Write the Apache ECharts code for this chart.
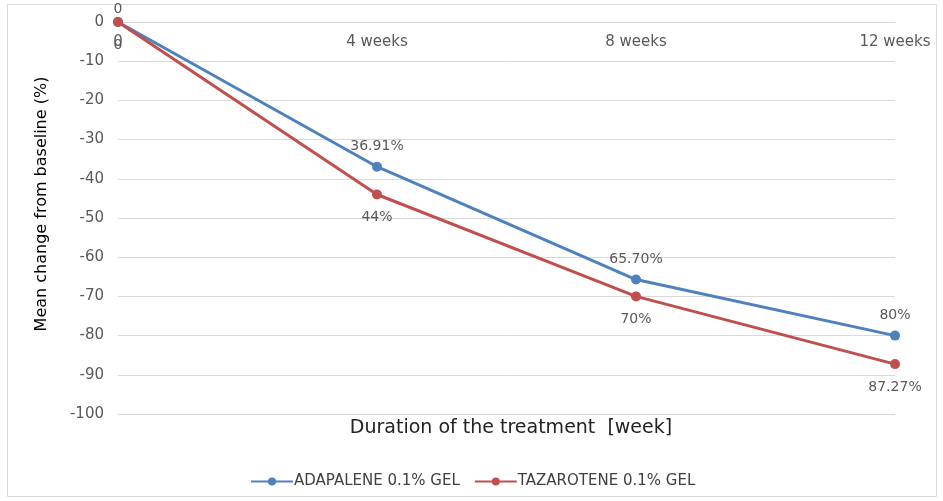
<!DOCTYPE html>
<html><head><meta charset="utf-8">
<script src="https://cdn.jsdelivr.net/npm/echarts@6/dist/echarts.min.js"></script>
<style>html,body{margin:0;padding:0;background:#fff}#c{width:943px;height:501px}</style>
</head><body><div id="c"></div>
<script>
var categories = ['0', '4 weeks', '8 weeks', '12 weeks'];
var adapalene = [0, -36.91, -65.70, -80];
var tazarotene = [0, -44, -70, -87.27];
var adapaleneLabels = ['0', '36.91%', '65.70%', '80%'];
var tazaroteneLabels = ['0', '44%', '70%', '87.27%'];
var yTicks = {min: -100, max: 0, interval: 10};

var chart = echarts.init(document.getElementById('c'));
var font = 'DejaVu Sans, Verdana, sans-serif';
var adaData = adapalene.map(function (v, i) {
  return i === 0 ? {value: v, label: {distance: 1}} : v;
});
chart.setOption({
  animation: false,
  grid: {left: 118, right: 48, top: 22, bottom: 87},
  graphic: [
    {type: 'rect', shape: {x: 7.5, y: 4.5, width: 929, height: 492}, style: {fill: 'none', stroke: '#d9d9d9', lineWidth: 1}},
    {type: 'text', x: 42, y: 204, rotation: Math.PI / 2, style: {text: 'Mean change from baseline (%)', font: '16px ' + font, fill: '#000', textAlign: 'center', textVerticalAlign: 'middle'}},
    {type: 'text', x: 511, y: 428, style: {text: 'Duration of the treatment  [week]', font: '19px ' + font, fill: '#222', textAlign: 'center', textVerticalAlign: 'middle'}}
  ],
  legend: {
    top: 469, left: 245, itemGap: 14, itemWidth: 42, itemHeight: 10,
    textStyle: {fontFamily: font, fontSize: 15, color: '#404040', padding: [0, 0, 0, -4]},
    data: ['ADAPALENE 0.1% GEL', 'TAZAROTENE 0.1% GEL']
  },
  xAxis: {
    type: 'category', data: categories, boundaryGap: false, position: 'top',
    axisLine: {onZero: false, lineStyle: {color: '#d9d9d9'}},
    axisTick: {show: false},
    axisLabel: {inside: true, fontFamily: font, fontSize: 15, color: '#595959', margin: 13, interval: 0}
  },
  yAxis: {
    type: 'value', min: yTicks.min, max: yTicks.max, interval: yTicks.interval,
    axisLine: {show: false}, axisTick: {show: false},
    splitLine: {lineStyle: {color: '#d9d9d9'}},
    axisLabel: {fontFamily: font, fontSize: 15, color: '#595959', margin: 14}
  },
  series: [
    {
      name: 'ADAPALENE 0.1% GEL', type: 'line', data: adaData,
      symbol: 'circle', symbolSize: 10, color: '#4f81bd',
      lineStyle: {width: 3, color: '#4f81bd'},
      label: {show: true, position: 'top', distance: 8, fontFamily: font, fontSize: 14, color: '#595959',
        formatter: function (p) { return adapaleneLabels[p.dataIndex]; }}
    },
    {
      name: 'TAZAROTENE 0.1% GEL', type: 'line', data: tazarotene,
      symbol: 'circle', symbolSize: 10, color: '#c0504d',
      lineStyle: {width: 3, color: '#c0504d'},
      label: {show: true, position: 'bottom', distance: 11, fontFamily: font, fontSize: 14, color: '#595959',
        formatter: function (p) { return tazaroteneLabels[p.dataIndex]; }}
    }
  ]
});
</script></body></html>
